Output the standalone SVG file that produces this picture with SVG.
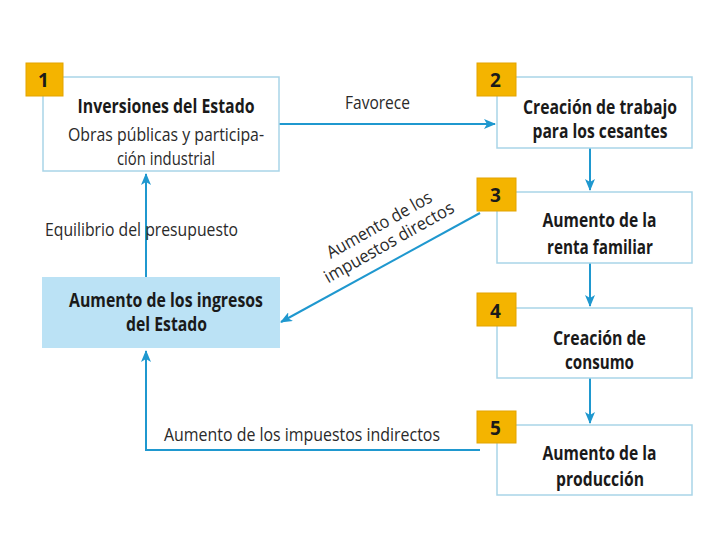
<svg xmlns="http://www.w3.org/2000/svg" width="720" height="540" viewBox="0 0 720 540">
<defs>
<marker id="ah" viewBox="0 0 12 10" refX="11" refY="5" markerWidth="12" markerHeight="10" markerUnits="userSpaceOnUse" orient="auto">
<path d="M0,0 L12,5 L0,10 L3,5 Z" fill="#1f98cf"/>
</marker>
<style>
.box{fill:#fff;stroke:#a9d5e8;stroke-width:1.5}
.hl{fill:#bbe2f5;stroke:none}
.badge{fill:#f4b400;stroke:#e3a400;stroke-width:1}
.num{font-family:"Open Sans","Noto Sans",sans-serif;font-weight:bold;font-size:19px;fill:#1a1a1a}
.b{font-family:"Open Sans","Noto Sans",sans-serif;font-weight:bold;font-size:19px;fill:#1a1a1a;text-anchor:middle}
.r{font-family:"Open Sans","Noto Sans",sans-serif;font-size:18.5px;fill:#2a2a2a;text-anchor:middle}
.l{font-family:"Open Sans","Noto Sans",sans-serif;font-size:17.5px;fill:#2a2a2a}
.c{fill:none;stroke:#1f98cf;stroke-width:2}
</style>
</defs>
<rect width="720" height="540" fill="#fff"/>

<g id="connectors">
<line class="c" x1="279" y1="124" x2="495" y2="124" marker-end="url(#ah)"/>
<line class="c" x1="590" y1="148" x2="590" y2="190" marker-end="url(#ah)"/>
<line class="c" x1="590" y1="263" x2="590" y2="306" marker-end="url(#ah)"/>
<line class="c" x1="590" y1="378" x2="590" y2="423" marker-end="url(#ah)"/>
<line class="c" x1="146" y1="277" x2="146" y2="174" marker-end="url(#ah)"/>
<polyline class="c" points="480,450 146,450 146,351" marker-end="url(#ah)"/>
<line class="c" x1="480" y1="213" x2="281" y2="322" marker-end="url(#ah)"/>
<text class="l" x="345" y="109" textLength="65" lengthAdjust="spacingAndGlyphs">Favorece</text>
<text class="l" x="45" y="236" textLength="193" lengthAdjust="spacingAndGlyphs">Equilibrio del presupuesto</text>
<text class="l" x="164" y="441" textLength="276" lengthAdjust="spacingAndGlyphs">Aumento de los impuestos indirectos</text>
<g transform="translate(386,237) rotate(-29.5)">
<text class="l" x="0" y="-8" text-anchor="middle" textLength="118" lengthAdjust="spacingAndGlyphs">Aumento de los</text>
<text class="l" x="0" y="12" text-anchor="middle" textLength="146" lengthAdjust="spacingAndGlyphs">impuestos directos</text>
</g>
</g>

<g id="node1">
<rect class="box" x="43" y="77" width="236" height="94"/>
<rect class="badge" x="26" y="63" width="37" height="33"/>
<text class="num" x="38" y="87">1</text>
<text class="b" x="166" y="113" textLength="177" lengthAdjust="spacingAndGlyphs">Inversiones del Estado</text>
<text class="r" x="166" y="141" textLength="196" lengthAdjust="spacingAndGlyphs">Obras públicas y participa-</text>
<text class="r" x="166" y="165" textLength="98" lengthAdjust="spacingAndGlyphs">ción industrial</text>
</g>

<g id="node2">
<rect class="box" x="497" y="77" width="195" height="71"/>
<rect class="badge" x="477" y="63" width="39" height="33"/>
<text class="num" x="490" y="87">2</text>
<text class="b" x="600" y="114" textLength="154" lengthAdjust="spacingAndGlyphs">Creación de trabajo</text>
<text class="b" x="600" y="138" textLength="135" lengthAdjust="spacingAndGlyphs">para los cesantes</text>
</g>

<g id="node3">
<rect class="box" x="497" y="192" width="195" height="71"/>
<rect class="badge" x="477" y="178" width="39" height="33"/>
<text class="num" x="490" y="202">3</text>
<text class="b" x="599.5" y="227" textLength="114" lengthAdjust="spacingAndGlyphs">Aumento de la</text>
<text class="b" x="600" y="254" textLength="106" lengthAdjust="spacingAndGlyphs">renta familiar</text>
</g>

<g id="node4">
<rect class="box" x="497" y="308" width="195" height="70"/>
<rect class="badge" x="477" y="293" width="39" height="33"/>
<text class="num" x="490" y="318">4</text>
<text class="b" x="599.5" y="345" textLength="93" lengthAdjust="spacingAndGlyphs">Creación de</text>
<text class="b" x="599.5" y="369" textLength="69" lengthAdjust="spacingAndGlyphs">consumo</text>
</g>

<g id="node5">
<rect class="box" x="497" y="425" width="195" height="70"/>
<rect class="badge" x="477" y="411" width="39" height="32"/>
<text class="num" x="490" y="435">5</text>
<text class="b" x="599.5" y="460" textLength="114" lengthAdjust="spacingAndGlyphs">Aumento de la</text>
<text class="b" x="600" y="486" textLength="88" lengthAdjust="spacingAndGlyphs">producción</text>
</g>

<g id="node6">
<rect class="hl" x="42" y="277" width="238" height="71"/>
<text class="b" x="166" y="307" textLength="194" lengthAdjust="spacingAndGlyphs">Aumento de los ingresos</text>
<text class="b" x="166.5" y="331" textLength="81" lengthAdjust="spacingAndGlyphs">del Estado</text>
</g>
</svg>
